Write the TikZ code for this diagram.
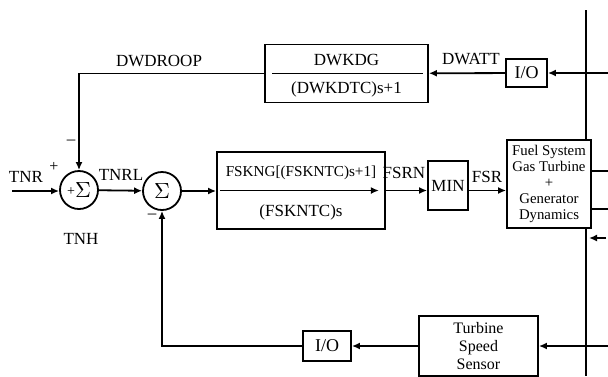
\documentclass[tikz,border=0pt]{standalone}
\usepackage{fontspec}
\setmainfont{Liberation Serif}
\usetikzlibrary{arrows.meta,positioning}

\begin{document}
\begin{tikzpicture}[x=0.5pt,y=-0.5pt,
    block/.style={rectangle, draw, fill=white, line width=0.9pt, inner sep=1pt, align=center, font=\fontsize{8.5}{9}\selectfont},
    sum/.style={circle, draw, line width=0.9pt, minimum size=19pt, inner sep=0pt, font=\fontsize{11}{12}\selectfont},
    lbl/.style={inner sep=1pt, font=\fontsize{8.5}{9}\selectfont},
    wire/.style={line width=0.9pt},
    arrow/.style={-{Latex[length=4pt,width=3.5pt]}, line width=0.9pt}
]
    \useasboundingbox (0,0) rectangle (608,376);

    % right-hand signal bus
    \coordinate (bustop) at (586,10);
    \coordinate (busbot) at (586,376);
    \draw[wire] (bustop) -- (busbot);

    % droop path
    \node[block, minimum width=81.5pt, minimum height=29pt] (dwkdg) at (346.5,73.5) {};
    \node[lbl] (dwkdgnum) at (346.5,60) {DWKDG};
    \node[lbl] (dwkdgden) at (346.5,89) {(DWKDTC)s+1};
    \draw[wire] ([xshift=4pt]dwkdg.west) -- ([xshift=-3pt]dwkdg.east);
    \node[block, minimum width=20.5pt, minimum height=14pt, font=\fontsize{9}{10}\selectfont] (iotop) at (526.5,73) {I/O};
    \coordinate (watt) at (608,73);
    \node[lbl] (dwattlbl) at (471,59) {DWATT};
    \node[lbl] (droolbl) at (159,61) {DWDROOP};

    % summing junctions
    \node[sum] (sum1) at (79,190) {$\vcenter{\hbox{\fontsize{7}{8}\selectfont+}}\Sigma$};
    \node[sum] (sum2) at (162,191) {$\Sigma$};
    \coordinate (tnr) at (12,191);
    \node[lbl] (tnrlbl) at (26,177) {TNR};
    \node[lbl, font=\fontsize{8}{9}\selectfont] (plus1) at (54,167) {+};
    \node[lbl] (minus1) at (71,142) {–};
    \node[lbl] (tnrllbl) at (121,175) {TNRL};
    \node[lbl] (tnhlbl) at (81,239) {TNH};
    \node[lbl] (minus2) at (152,216) {–};

    % speed/load controller
    \node[block, minimum width=84pt, minimum height=38.5pt] (fskng) at (301,190.5) {};
    \node[lbl, font=\fontsize{7.6}{9}\selectfont] (fskngnum) at (301,173) {FSKNG[(FSKNTC)s+1]};
    \node[lbl] (fskngden) at (301,212) {(FSKNTC)s};
    \draw[arrow] ([xshift=2pt]fskng.west) -- ([xshift=-3.5pt]fskng.east);

    \node[block, minimum width=20pt, minimum height=24.5pt] (min) at (448,185.5) {MIN};
    \node[lbl] (fsrnlbl) at (404,173) {FSRN};
    \node[lbl] (fsrlbl) at (487,177) {FSR};

    \node[block, minimum width=42pt, minimum height=44pt, inner sep=0.3pt, font=\fontsize{7.4}{8}\selectfont] (fuel) at (549,184) {Fuel System\\Gas Turbine\\+\\Generator\\Dynamics};
    \coordinate (out1) at (608,171);
    \coordinate (out2) at (608,209);
    \coordinate (fbtail) at (606,238);
    \coordinate (fbtip) at (589,238);

    % speed feedback
    \node[block, minimum width=59.5pt, minimum height=30pt, font=\fontsize{8}{9}\selectfont] (sensor) at (478.5,346) {Turbine\\Speed\\Sensor};
    \node[block, minimum width=24pt, minimum height=15pt, font=\fontsize{9}{10}\selectfont] (iobot) at (327,346) {I/O};
    \coordinate (spd) at (608,346);

    \draw[arrow] (watt) -- (iotop);
    \draw[arrow] (iotop) -- (dwkdg);
    \draw[arrow] (dwkdg.west) -| (sum1.north);
    \draw[arrow] (tnr) -- (tnr -| sum1.west);
    \draw[arrow] (sum1) -- (sum2);
    \draw[arrow] (sum2) -- (sum2 -| fskng.west);
    \draw[arrow] (fskng.east) -- (fskng.east -| min.west);
    \draw[arrow] (fskng.east -| min.east) -- (fskng.east -| fuel.west);
    \draw[wire] (fuel.east |- out1) -- (out1);
    \draw[wire] (fuel.east |- out2) -- (out2);
    \draw[arrow] (fbtail) -- (fbtip);
    \draw[arrow] (spd) -- (sensor.east |- spd);
    \draw[arrow] (sensor) -- (iobot);
    \draw[arrow] (iobot.west) -| (sum2.south);
\end{tikzpicture}
\end{document}
